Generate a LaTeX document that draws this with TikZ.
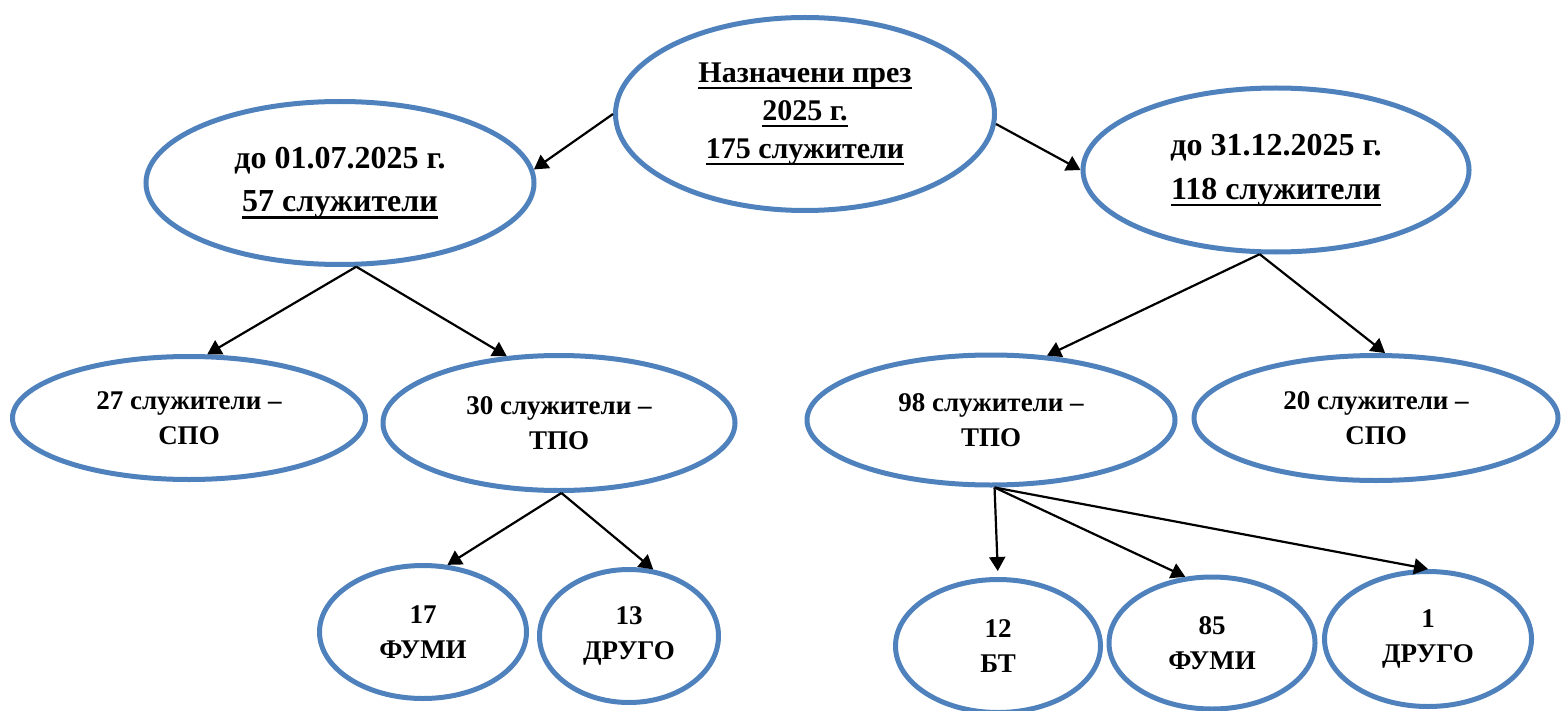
\documentclass[tikz,border=0pt]{standalone}
\usepackage{fontspec}
\setmainfont{Liberation Serif}
\usetikzlibrary{shapes.geometric,arrows.meta}
\definecolor{ovalblue}{HTML}{4F81BD}
\newcommand{\undl}[1]{\setbox0\hbox{#1}\rlap{\vrule width\wd0 height -2.4pt depth 3.6pt}\box0}
\begin{document}
\begin{tikzpicture}[x=0.5pt,y=-0.5pt,
oval/.style={ellipse,draw=ovalblue,line width=2.5pt,inner sep=0pt,align=center,
  font=\bfseries\fontsize{13.5}{17.5}\selectfont},
arr/.style={-{Triangle[length=7pt,width=8pt]},line width=1.1pt}]
\useasboundingbox (0,0) rectangle (1561,711);

\node[oval,minimum width=189.5pt,minimum height=96.5pt,font=\bfseries\fontsize{15}{19}\selectfont]
(top) at (805,114) {\undl{Назначени през}\\\undl{2025 г.}\\\undl{175 служители}};
\node[oval,minimum width=194pt,minimum height=81.5pt,font=\bfseries\fontsize{16}{21.5}\selectfont]
(L1) at (340,183) {до 01.07.2025 г.\\\undl{57 служители}};
\node[oval,minimum width=193pt,minimum height=82pt,font=\bfseries\fontsize{16}{22}\selectfont]
(R1) at (1276,170) {до 31.12.2025 г.\\\undl{118 служители}};

\node[oval,minimum width=176.5pt,minimum height=61.5pt] (L2a) at (189,418) {27 служители --\\СПО};
\node[oval,minimum width=176pt,minimum height=67.5pt] (L2b) at (559,423) {30 служители --\\ТПО};
\node[oval,minimum width=184pt,minimum height=65pt] (R2a) at (991,420) {98 служители --\\ТПО};
\node[oval,minimum width=182pt,minimum height=62.5pt] (R2b) at (1376,418) {20 служители --\\СПО};

\node[oval,minimum width=103.5pt,minimum height=66.5pt] (L3a) at (423,632) {17\\ФУМИ};
\node[oval,minimum width=89.5pt,minimum height=66.5pt] (L3b) at (629,636) {13\\ДРУГО};
\node[oval,minimum width=102.5pt,minimum height=66.5pt] (R3a) at (998,646) {12\\БТ};
\node[oval,minimum width=103pt,minimum height=66pt] (R3b) at (1212,643) {85\\ФУМИ};
\node[oval,minimum width=103.5pt,minimum height=67.5pt] (R3c) at (1428,639) {1\\ДРУГО};

\draw[arr] (top.west) -- (L1.4);
\draw[arr] (top.-3) -- (R1.west);
\draw[arr] (L1.-79) -- (L2a.74);
\draw[arr] (L1.-79) -- (L2b.128);
\draw[arr] (R1.-101) -- (R2a.49);
\draw[arr] (R1.-101) -- (R2b.82);
\draw[arr] (L2b.-88) -- (L3a.70);
\draw[arr] (L2b.-88) -- (L3b.70);
\draw[arr,shorten >=3pt] (R2a.-87) -- (R3a.north);
\draw[arr] (R2a.-87) -- (R3b.112);
\draw[arr] (R2a.-87) -- (R3c.north);
\end{tikzpicture}
\end{document}
